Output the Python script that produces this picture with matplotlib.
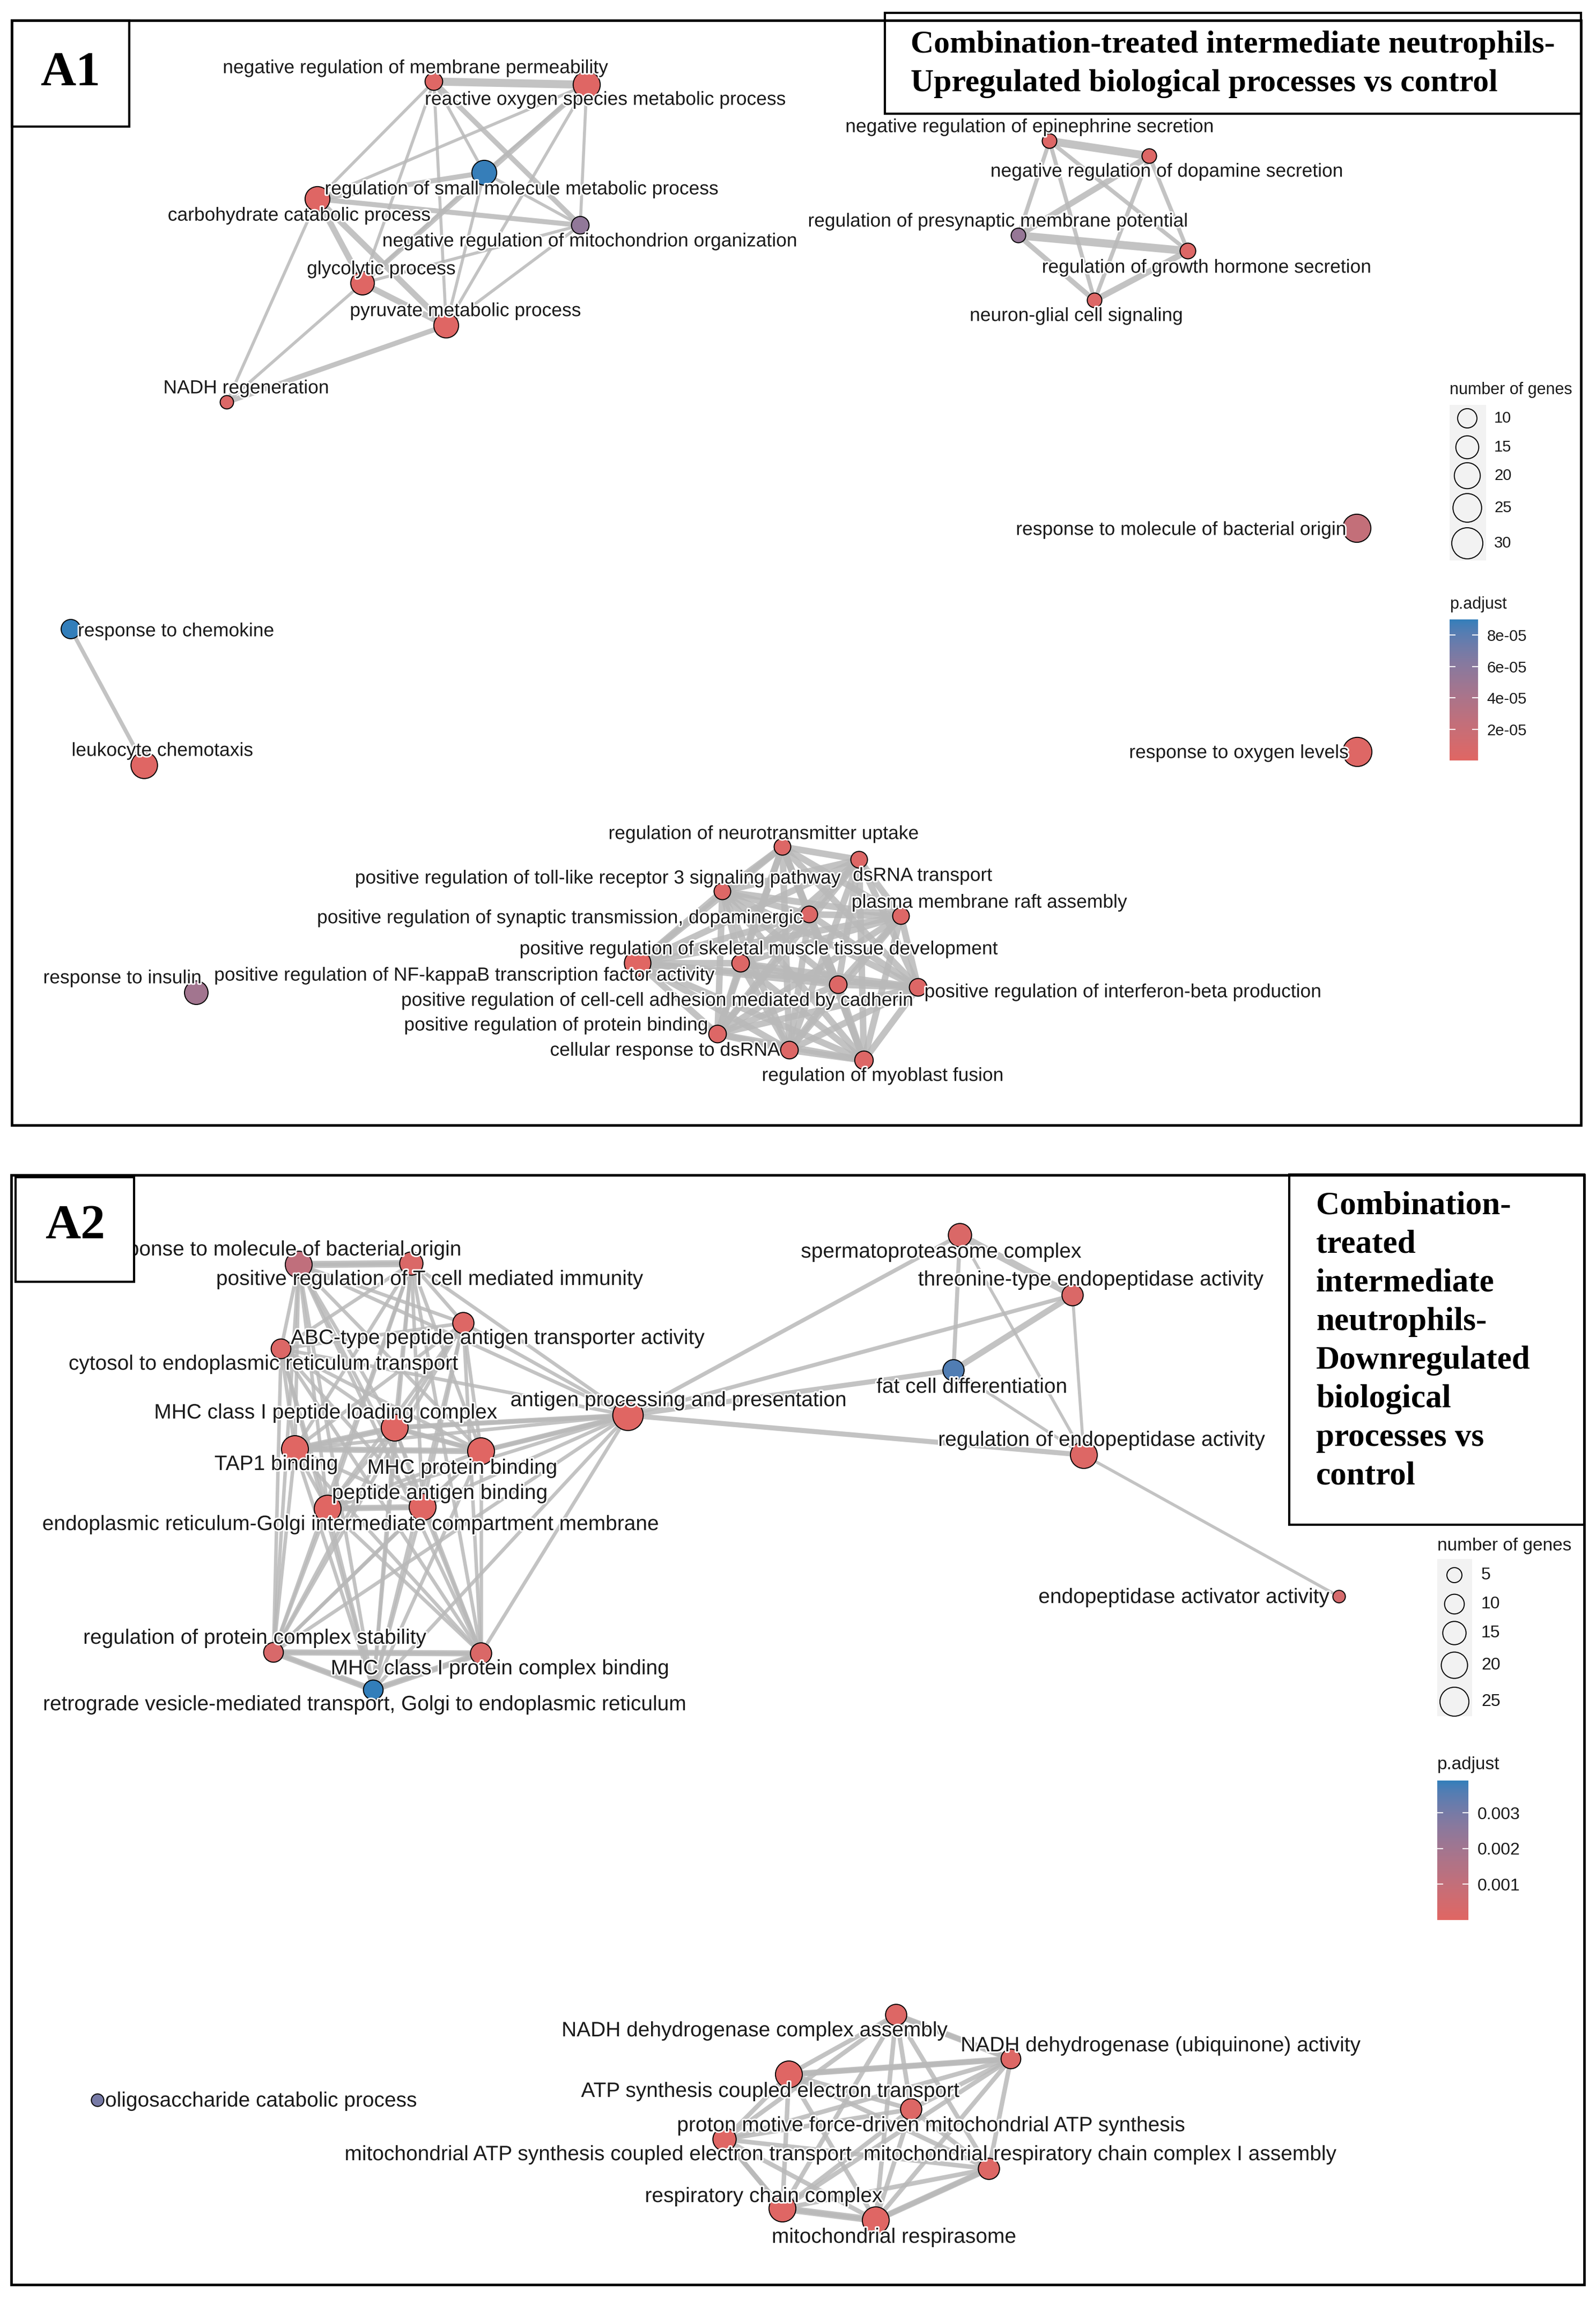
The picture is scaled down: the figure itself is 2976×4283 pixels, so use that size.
"""
Enrichment map (emapplot-style) of GO terms for combination-treated
intermediate neutrophils: A1 upregulated, A2 downregulated vs control.
"""

import itertools
import numpy as np
import matplotlib
matplotlib.use("Agg")
import matplotlib.pyplot as plt
import matplotlib.patheffects as pe
from matplotlib.patches import Rectangle
from matplotlib.collections import LineCollection
from matplotlib.colors import ListedColormap, Normalize, to_rgb
from matplotlib.cm import ScalarMappable

W, H = 2976, 4283
DPI = 100

# ---------------------------------------------------------------- A1 data
a1_terms = [
    "negative regulation of membrane permeability",
    "reactive oxygen species metabolic process",
    "regulation of small molecule metabolic process",
    "carbohydrate catabolic process",
    "negative regulation of mitochondrion organization",
    "glycolytic process",
    "pyruvate metabolic process",
    "NADH regeneration",
    "negative regulation of epinephrine secretion",
    "negative regulation of dopamine secretion",
    "regulation of presynaptic membrane potential",
    "regulation of growth hormone secretion",
    "neuron-glial cell signaling",
    "response to molecule of bacterial origin",
    "response to oxygen levels",
    "response to chemokine",
    "leukocyte chemotaxis",
    "response to insulin",
    "regulation of neurotransmitter uptake",
    "dsRNA transport",
    "positive regulation of toll-like receptor 3 signaling pathway",
    "positive regulation of synaptic transmission, dopaminergic",
    "plasma membrane raft assembly",
    "positive regulation of skeletal muscle tissue development",
    "positive regulation of NF-kappaB transcription factor activity",
    "positive regulation of cell-cell adhesion mediated by cadherin",
    "positive regulation of interferon-beta production",
    "positive regulation of protein binding",
    "cellular response to dsRNA",
    "regulation of myoblast fusion",
]
# graph layout (page pixel units)
a1_x = [809, 1094, 903, 592, 1082, 676, 832, 423,
        1957, 2143, 1899, 2215, 2041,
        2530, 2531, 132, 269, 366,
        1459, 1602, 1347, 1509, 1680, 1381, 1189, 1563, 1712, 1338, 1472, 1611]
a1_y = [152, 158, 322, 371, 420, 528, 607, 750,
        263, 291, 439, 468, 560,
        985, 1402, 1173, 1427, 1851,
        1579, 1603, 1662, 1705, 1708, 1796, 1796, 1836, 1841, 1928, 1958, 1977]
a1_count = [8, 22, 18, 18, 8, 16, 18, 4,
            5, 5, 5, 6, 5,
            24, 26, 10, 21, 16,
            7, 7, 7, 7, 7, 8, 21, 8, 8, 8, 8, 9]
a1_padj = [2.0e-6, 1.0e-6, 8.9e-5, 1.5e-6, 5.6e-5, 1.0e-6, 1.0e-6, 4.0e-6,
           3.0e-6, 3.0e-6, 5.3e-5, 3.0e-6, 3.0e-6,
           2.3e-5, 2.0e-6, 9.0e-5, 1.0e-6, 4.6e-5,
           3.0e-6, 3.0e-6, 3.0e-6, 3.0e-6, 3.0e-6, 3.0e-6, 1.0e-7, 3.0e-6,
           3.0e-6, 3.0e-6, 3.0e-6, 3.0e-6]
a1_edges = [
    (0, 1, 8), (0, 2, 3), (0, 3, 3), (0, 4, 5), (0, 5, 3), (0, 6, 3),
    (1, 2, 3), (1, 3, 3), (1, 4, 3), (1, 5, 5), (1, 6, 3),
    (2, 3, 5), (2, 4, 3), (2, 5, 3), (2, 6, 3),
    (3, 4, 5), (3, 5, 6), (3, 6, 6), (3, 7, 3),
    (4, 5, 3), (4, 6, 3),
    (5, 6, 6), (5, 7, 3), (6, 7, 5),
    (8, 9, 8), (8, 10, 4), (8, 11, 4), (8, 12, 4), (9, 10, 6), (9, 11, 4),
    (9, 12, 4), (10, 11, 8), (10, 12, 5), (11, 12, 6),
    (15, 16, 4),
]
a1_clique = list(range(18, 30))   # dsRNA / NF-kB module, fully connected
a1_clique_w = 6.5

# label anchors from the repel layout
a1_lab = [(775, 127, "center"), (1129, 186, "center"), (973, 353, "center"),
          (558, 402, "center"), (1100, 450, "center"), (711, 502, "center"),
          (868, 580, "center"), (459, 724, "center"),
          (1920, 237, "center"), (2176, 320, "center"), (1861, 413, "center"),
          (2250, 499, "center"), (2007, 589, "center"),
          (2511, 988, "right"), (2515, 1404, "right"), (145, 1177, "left"),
          (303, 1400, "center"), (228, 1824, "center"),
          (1424, 1555, "center"), (1720, 1633, "center"), (1115, 1638, "center"),
          (1044, 1712, "center"), (1845, 1683, "center"), (1415, 1770, "center"),
          (866, 1819, "center"), (1226, 1866, "center"), (2094, 1850, "center"),
          (1037, 1912, "center"), (1240, 1959, "center"), (1646, 2006, "center")]

a1_size_breaks = [10, 15, 20, 25, 30]
a1_p_breaks = [2e-5, 4e-5, 6e-5, 8e-5]
a1_p_labels = ["2e-05", "4e-05", "6e-05", "8e-05"]

# ---------------------------------------------------------------- A2 data
a2_terms = [
    "response to molecule of bacterial origin",
    "positive regulation of T cell mediated immunity",
    "ABC-type peptide antigen transporter activity",
    "cytosol to endoplasmic reticulum transport",
    "MHC class I peptide loading complex",
    "TAP1 binding",
    "MHC protein binding",
    "peptide antigen binding",
    "endoplasmic reticulum-Golgi intermediate compartment membrane",
    "antigen processing and presentation",
    "regulation of protein complex stability",
    "MHC class I protein complex binding",
    "retrograde vesicle-mediated transport, Golgi to endoplasmic reticulum",
    "spermatoproteasome complex",
    "threonine-type endopeptidase activity",
    "fat cell differentiation",
    "regulation of endopeptidase activity",
    "endopeptidase activator activity",
    "oligosaccharide catabolic process",
    "NADH dehydrogenase complex assembly",
    "NADH dehydrogenase (ubiquinone) activity",
    "ATP synthesis coupled electron transport",
    "proton motive force-driven mitochondrial ATP synthesis",
    "mitochondrial ATP synthesis coupled electron transport",
    "mitochondrial respiratory chain complex I assembly",
    "respiratory chain complex",
    "mitochondrial respirasome",
]
a2_x = [557, 767, 864, 524, 736, 550, 897, 788, 611, 1171, 510, 897, 696,
        1790, 2000, 1778, 2021, 2497,
        182,
        1671, 1885, 1471, 1699, 1351, 1844, 1459, 1633]
a2_y = [2358, 2356, 2467, 2515, 2662, 2702, 2706, 2810, 2813, 2639, 3081, 3083, 3151,
        2303, 2415, 2555, 2713, 2977,
        3916,
        3757, 3839, 3868, 3933, 3989, 4044, 4118, 4140]
a2_count = [21, 15, 12, 10, 21, 21, 21, 21, 21, 28, 10, 12, 10,
            15, 12, 12, 21, 3,
            3,
            12, 10, 21, 12, 15, 12, 21, 21]
a2_padj = [1.1e-3, 2.0e-4, 1.0e-4, 1.5e-4, 1.0e-5, 1.0e-5, 2.0e-5, 1.0e-5, 3.0e-5,
           1.0e-6, 3.0e-4, 2.0e-4, 3.9e-3,
           2.0e-4, 2.0e-4, 3.6e-3, 1.0e-4, 4.0e-4,
           3.0e-3,
           1.0e-4, 1.0e-4, 5.0e-5, 1.0e-4, 5.0e-5, 1.0e-4, 5.0e-5, 5.0e-5]
a2_clique = list(range(0, 13))    # MHC class I / antigen presentation module
a2_clique_w = 3.5
a2_clique2 = list(range(19, 27))  # respiratory chain module
a2_clique2_w = 4.5
a2_edges = [
    (0, 1, 7), (4, 5, 6), (5, 6, 6), (4, 6, 5), (7, 8, 6), (10, 11, 6),
    (10, 12, 6), (11, 12, 6), (4, 9, 5), (6, 9, 5),
    (9, 13, 4), (9, 14, 4), (9, 15, 5), (9, 16, 5),
    (13, 14, 7), (13, 15, 4), (13, 16, 3), (14, 15, 6), (14, 16, 3),
    (15, 16, 3), (16, 17, 3),
    (19, 20, 6), (21, 20, 6), (25, 26, 7), (24, 26, 6), (23, 25, 5),
]

a2_lab = [(860, 2331, "right"), (801, 2386, "center"), (928, 2496, "center"),
          (491, 2544, "center"), (607, 2635, "center"), (515, 2731, "center"),
          (862, 2738, "center"), (820, 2785, "center"), (654, 2843, "center"),
          (1265, 2612, "center"), (475, 3055, "center"), (932, 3112, "center"),
          (680, 3179, "center"),
          (1755, 2335, "center"), (2034, 2387, "center"), (1812, 2587, "center"),
          (2054, 2686, "center"), (2479, 2979, "right"),
          (196, 3918, "left"),
          (1407, 3787, "center"), (2164, 3815, "center"), (1436, 3900, "center"),
          (1736, 3964, "center"), (1115, 4018, "center"), (2051, 4018, "center"),
          (1424, 4096, "center"), (1667, 4172, "center")]

a2_size_breaks = [5, 10, 15, 20, 25]
a2_p_breaks = [0.001, 0.002, 0.003]
a2_p_labels = ["0.001", "0.002", "0.003"]

a1_title = ["Combination-treated intermediate neutrophils-",
            "Upregulated biological processes vs control"]
a2_title = ["Combination-", "treated", "intermediate", "neutrophils-",
            "Downregulated", "biological", "processes vs", "control"]

# ---------------------------------------------------------------- styling
SANS = ["Liberation Sans", "DejaVu Sans"]
SERIF = ["Liberation Serif", "DejaVu Serif"]
EDGE_COLOR = "#b9b9b9"
HALO = [pe.withStroke(linewidth=4, foreground="white")]


def _lin(c):
    c = np.asarray(c)
    return np.where(c <= 0.04045, c / 12.92, ((c + 0.055) / 1.055) ** 2.4)


def _gam(c):
    c = np.clip(c, 0, 1)
    return np.where(c <= 0.0031308, 12.92 * c, 1.055 * c ** (1 / 2.4) - 0.055)


M = np.array([[0.4124, 0.3576, 0.1805],
              [0.2126, 0.7152, 0.0722],
              [0.0193, 0.1192, 0.9505]])
WHITE = np.array([0.95047, 1.0, 1.08883])


def rgb2lab(rgb):
    xyz = M @ _lin(rgb) / WHITE
    f = np.where(xyz > 0.008856, np.cbrt(xyz), 7.787 * xyz + 16 / 116)
    return np.array([116 * f[1] - 16, 500 * (f[0] - f[1]), 200 * (f[1] - f[2])])


def lab2rgb(lab):
    fy = (lab[0] + 16) / 116
    fx = fy + lab[1] / 500
    fz = fy - lab[2] / 200
    f = np.array([fx, fy, fz])
    xyz = np.where(f ** 3 > 0.008856, f ** 3, (f - 16 / 116) / 7.787) * WHITE
    return _gam(np.linalg.inv(M) @ xyz)


# ggplot-like gradient: interpolation in Lab space
lo, hi = rgb2lab(to_rgb("#e06663")), rgb2lab(to_rgb("#327eba"))
CMAP = ListedColormap([lab2rgb(lo + (hi - lo) * t) for t in np.linspace(0, 1, 256)])


def radius_px(n, c, d):
    return c * n ** 0.5 + d


def marker_area(r):
    # radius in pixels -> scatter area in pt^2
    return (2 * r * 72 / DPI) ** 2


fig = plt.figure(figsize=(W / DPI, H / DPI), dpi=DPI)
ax = fig.add_axes([0, 0, 1, 1])
ax.set_xlim(0, W)
ax.set_ylim(H, 0)
ax.axis("off")


def draw_network(xs, ys, counts, padj, edges, cliques, labels, terms,
                 size_c, size_d, fontsize):
    segs, widths = [], []
    for members, w in cliques:
        for i, j in itertools.combinations(members, 2):
            segs.append([(xs[i], ys[i]), (xs[j], ys[j])])
            widths.append(w * 1.35)
    for i, j, w in edges:
        segs.append([(xs[i], ys[i]), (xs[j], ys[j])])
        widths.append(w * 1.35)
    ax.add_collection(LineCollection(segs, colors=EDGE_COLOR, linewidths=widths,
                                     alpha=0.85, zorder=1, capstyle="round"))
    norm = Normalize(min(padj), max(padj))
    sizes = [marker_area(radius_px(n, size_c, size_d)) for n in counts]
    ax.scatter(xs, ys, s=sizes, c=padj, cmap=CMAP, norm=norm,
               edgecolors="black", linewidths=1.4, zorder=3)
    for t, (lx, ly, ha) in zip(terms, labels):
        ax.text(lx, ly, t, ha=ha, va="center", fontsize=fontsize,
                family=SANS, color="#1a1a1a", zorder=4, path_effects=HALO)
    return norm


def draw_legend(breaks, size_c, size_d, title_xy, bg, key_x, key_ys, lab_x,
                fontsize, norm, p_title_xy, cbar_box, p_breaks, p_labels):
    ax.text(*title_xy, "number of genes", ha="left", va="center",
            fontsize=fontsize, family=SANS, color="#1a1a1a")
    x0, y0, x1, y1 = bg
    ax.add_patch(Rectangle((x0, y0), x1 - x0, y1 - y0, facecolor="#f2f2f2",
                           edgecolor="none", zorder=2))
    ax.scatter([key_x] * len(breaks), key_ys,
               s=[marker_area(radius_px(b, size_c, size_d)) for b in breaks],
               facecolors="none", edgecolors="black", linewidths=1.4, zorder=3)
    for b, ky in zip(breaks, key_ys):
        ax.text(lab_x, ky, str(b), ha="left", va="center", fontsize=fontsize - 1,
                family=SANS, color="#1a1a1a")
    ax.text(*p_title_xy, "p.adjust", ha="left", va="center", fontsize=fontsize,
            family=SANS, color="#1a1a1a")
    cx0, cy0, cx1, cy1 = cbar_box
    cax = fig.add_axes([cx0 / W, 1 - cy1 / H, (cx1 - cx0) / W, (cy1 - cy0) / H])
    cb = fig.colorbar(ScalarMappable(norm=norm, cmap=CMAP), cax=cax)
    cb.outline.set_visible(False)
    cb.set_ticks(p_breaks)
    cb.set_ticklabels(p_labels)
    cax.tick_params(axis="y", which="both", direction="in", left=True, right=True,
                    color="white", length=8, width=1.5, pad=12,
                    labelsize=fontsize - 1)
    for lab in cax.get_yticklabels():
        lab.set_family(SANS)
        lab.set_color("#1a1a1a")


def box(x0, y0, x1, y1, lw):
    ax.add_patch(Rectangle((x0, y0), x1 - x0, y1 - y0, facecolor="white",
                           edgecolor="black", linewidth=lw, zorder=6))


# ---------------------------------------------------------------- panel A1
ax.add_patch(Rectangle((22, 38), 2926, 2060, facecolor="none",
                       edgecolor="black", linewidth=3.4, zorder=7))
n1 = draw_network(a1_x, a1_y, a1_count, a1_padj, a1_edges,
                  [(a1_clique, a1_clique_w)], a1_lab, a1_terms, 4.74, 3.0, 25.5)
draw_legend(a1_size_breaks, 4.74, 3.0, (2703, 727), (2703, 755, 2771, 1045),
            2736, [780, 834, 887, 947, 1013], 2786, 22, n1,
            (2703, 1127), (2703, 1155, 2756, 1418), a1_p_breaks, a1_p_labels)
box(22, 38, 241, 236, 3.0)
ax.text(131, 137, "A1", ha="center", va="center", fontsize=66,
        family=SERIF, weight="bold", zorder=8)
box(1650, 24, 2948, 212, 3.0)
for k, line in enumerate(a1_title):
    ax.text(1698, 84 + 72 * k, line, ha="left", va="center", fontsize=43,
            family=SERIF, weight="bold", zorder=8)

# ---------------------------------------------------------------- panel A2
ax.add_patch(Rectangle((21, 2191), 2933, 2069, facecolor="none",
                       edgecolor="black", linewidth=3.4, zorder=7))
n2 = draw_network(a2_x, a2_y, a2_count, a2_padj, a2_edges,
                  [(a2_clique, a2_clique_w), (a2_clique2, a2_clique2_w)],
                  a2_lab, a2_terms, 4.7, 3.5, 28)
draw_legend(a2_size_breaks, 4.7, 3.5, (2680, 2882), (2680, 2907, 2745, 3200),
            2712, [2937, 2991, 3045, 3105, 3173], 2762, 24, n2,
            (2680, 3290), (2680, 3320, 2738, 3580), a2_p_breaks, a2_p_labels)
box(29, 2195, 250, 2390, 3.0)
ax.text(140, 2287, "A2", ha="center", va="center", fontsize=66,
        family=SERIF, weight="bold", zorder=8)
box(2404, 2190, 2954, 2843, 3.0)
for k, line in enumerate(a2_title):
    ax.text(2454, 2249 + 72 * k, line, ha="left", va="center", fontsize=44,
            family=SERIF, weight="bold", zorder=8)

fig.savefig("out.png", dpi=DPI, facecolor="white")
